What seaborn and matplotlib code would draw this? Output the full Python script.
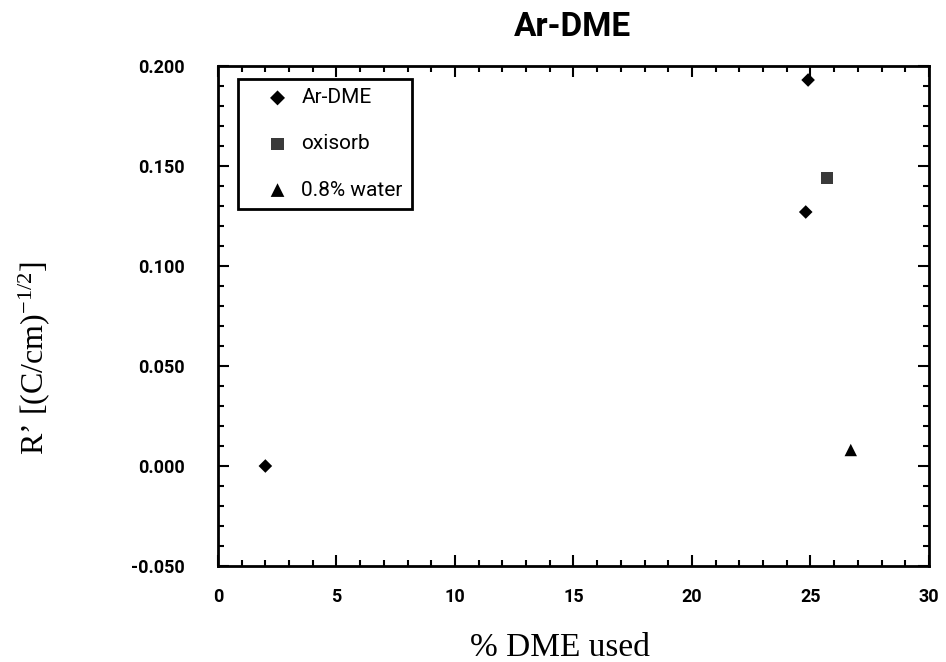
import matplotlib
matplotlib.use("Agg")
import matplotlib.pyplot as plt
import seaborn as sns
import pandas as pd
from matplotlib.ticker import MultipleLocator, FormatStrFormatter

# Measured resolution parameter versus DME fraction
series = ["Ar-DME", "Ar-DME", "Ar-DME", "oxisorb", "0.8% water"]
dme_pct = [2.0, 24.9, 24.8, 25.7, 26.7]
r_prime = [0.000, 0.193, 0.127, 0.144, 0.008]

series_order = ["Ar-DME", "oxisorb", "0.8% water"]
series_markers = {"Ar-DME": "D", "oxisorb": "s", "0.8% water": "^"}
series_colors = {"Ar-DME": "#000000", "oxisorb": "#3a3a3a", "0.8% water": "#000000"}
series_sizes = {"Ar-DME": 48, "oxisorb": 72, "0.8% water": 80}

df = pd.DataFrame({"series": series, "x": dme_pct, "y": r_prime})

sns.set_style("ticks")
plt.rcParams["font.family"] = ["Roboto", "DejaVu Sans"]
for key in ("text.color", "axes.labelcolor", "xtick.color", "ytick.color"):
    plt.rcParams[key] = "black"
plt.rcParams["mathtext.fontset"] = "custom"
plt.rcParams["mathtext.rm"] = "Liberation Serif"
plt.rcParams["mathtext.it"] = "Liberation Serif:italic"

fig = plt.figure(figsize=(9.46, 6.62), dpi=100)
ax = fig.add_axes([0.2304, 0.145, 0.7516, 0.7553])

for name in series_order:
    sub = df[df["series"] == name]
    sns.scatterplot(data=sub, x="x", y="y", marker=series_markers[name],
                    color=series_colors[name], s=series_sizes[name],
                    edgecolor="none", label=name, ax=ax)

ax.set_xlim(0, 30)
ax.set_ylim(-0.05, 0.2)
ax.xaxis.set_major_locator(MultipleLocator(5))
ax.xaxis.set_minor_locator(MultipleLocator(1))
ax.yaxis.set_major_locator(MultipleLocator(0.05))
ax.yaxis.set_minor_locator(MultipleLocator(0.01))
ax.yaxis.set_major_formatter(FormatStrFormatter("%.3f"))
ax.xaxis.set_major_formatter(FormatStrFormatter("%d"))

ax.tick_params(which="both", direction="in", top=True, right=True, width=1.5)
ax.tick_params(which="major", length=8, labelsize=13)
ax.tick_params(which="minor", length=4)
ax.tick_params(axis="x", which="major", pad=16)
ax.tick_params(axis="y", which="major", pad=24)
for lbl in ax.get_xticklabels() + ax.get_yticklabels():
    lbl.set_fontweight("bold")
for sp in ax.spines.values():
    sp.set_linewidth(2)
    sp.set_color("black")

fig.text(572 / 946, 1 - 27 / 662, "Ar-DME", fontsize=24, fontweight="bold",
         ha="center", va="center")

ax.set_xlabel("% DME used", fontsize=24, family="Liberation Serif")
ax.xaxis.label.set_verticalalignment("baseline")
ax.xaxis.set_label_coords(0.481, -0.18)
ax.set_ylabel(r"R’ [(C/cm)$^{\mathrm{-1/2}}$]", fontsize=23, family="Liberation Serif")
ax.yaxis.set_label_coords(-0.2335, 0.416)

leg = ax.legend(loc="upper left", bbox_to_anchor=(0.0281, 0.974), borderaxespad=0,
                frameon=True, fancybox=False, edgecolor="black", fontsize=15,
                borderpad=0.45, labelspacing=1.3, handlelength=2.9,
                handletextpad=-0.3, markerscale=1.1)
leg.get_frame().set_linewidth(2)
leg.get_frame().set_alpha(1)

fig.savefig("out.png", dpi=100)
